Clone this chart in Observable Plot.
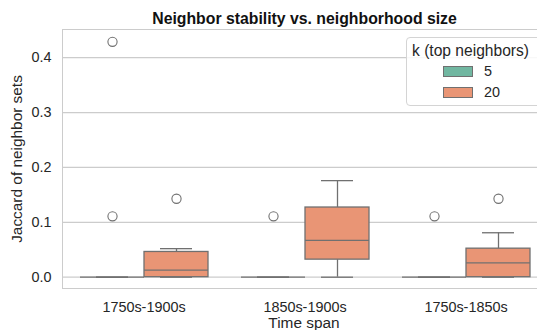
<!DOCTYPE html>
<html>
<head>
<meta charset="utf-8">
<script src="https://cdn.jsdelivr.net/npm/d3@7"></script>
<script src="https://cdn.jsdelivr.net/npm/@observablehq/plot@0.6"></script>
<style>
  html, body { margin: 0; padding: 0; background: #fff; }
  #wrap { position: relative; width: 537px; height: 330px; overflow: hidden;
          font-family: "Liberation Sans", Arial, sans-serif; color: #262626; }
  #chart { position: absolute; left: 0; top: 0; width: 546px; height: 330px; }
  #chart svg { max-width: none !important; width: 546px !important; height: 330px !important; }
  .abs { position: absolute; white-space: nowrap; }
</style>
</head>
<body>
<div id="wrap">
  <div id="chart"></div>
  <div class="abs" id="frame" style="left:62.2px;top:29.2px;width:482px;height:257.6px;border:1.6px solid #cccccc;pointer-events:none;"></div>
  <div class="abs" style="left:0;top:9px;width:609px;text-align:center;font-weight:bold;font-size:15.8px;line-height:20px;color:#111;">Neighbor stability vs. neighborhood size</div>
  <div class="abs" style="left:17px;top:159px;transform:translate(-50%,-50%) rotate(-90deg);font-size:15.4px;">Jaccard of neighbor sets</div>
  <div class="abs" style="left:304px;top:323px;transform:translate(-50%,-50%);font-size:15.4px;">Time span</div>
  <div class="abs" id="legend" style="left:406px;top:37px;width:150px;height:67px;border:1.2px solid #d4d4d4;border-radius:4px;background:rgba(255,255,255,0.85);"></div>
</div>
<script>
// ---- data ----
const spans = ["1750s-1900s", "1850s-1900s", "1750s-1850s"];
const ks = ["5", "20"];
const legendTitle = "k (top neighbors)";

// box statistics per time span, k = 5
const k5Q1     = [0, 0, 0];
const k5Median = [0, 0, 0];
const k5Q3     = [0, 0, 0];
const k5Lo     = [0, 0, 0];
const k5Hi     = [0, 0, 0];
// box statistics per time span, k = 20
const k20Q1     = [0, 0.032, 0];
const k20Median = [0.013, 0.067, 0.026];
const k20Q3     = [0.046, 0.127, 0.052];
const k20Lo     = [0, 0, 0];
const k20Hi     = [0.052, 0.176, 0.081];

// outliers
const outlierSpan  = ["1750s-1900s", "1750s-1900s", "1750s-1900s", "1850s-1900s", "1750s-1850s", "1750s-1850s"];
const outlierK     = ["5", "5", "20", "5", "5", "20"];
const outlierValue = [0.111, 0.429, 0.143, 0.111, 0.111, 0.143];

const yTicks = [0, 0.1, 0.2, 0.3, 0.4];
const colors = {"5": "#71b7a1", "20": "#e99575"};
const lineColor = "#707070";

// ---- build tables ----
const boxes = [];
spans.forEach((s, i) => {
  boxes.push({span: s, k: "5", q1: k5Q1[i], median: k5Median[i], q3: k5Q3[i], lo: k5Lo[i], hi: k5Hi[i]});
  boxes.push({span: s, k: "20", q1: k20Q1[i], median: k20Median[i], q3: k20Q3[i], lo: k20Lo[i], hi: k20Hi[i]});
});
const outliers = outlierSpan.map((s, i) => ({span: s, k: outlierK[i], value: outlierValue[i]}));

const yMax = 0.429, yMin = 0;
const pad = (yMax - yMin) * 0.048;

const chart = Plot.plot({
  width: 546,
  height: 330,
  marginLeft: 63,
  marginRight: 0,
  marginTop: 30,
  marginBottom: 42,
  style: {fontSize: "14.4px", fontFamily: "'Liberation Sans', Arial, sans-serif", color: "#262626", background: "transparent", maxWidth: "none"},
  fx: {domain: spans, padding: 0, label: null, axis: null},
  x: {domain: ks, paddingInner: 0, paddingOuter: 0.25, axis: null},
  y: {domain: [yMin - pad, yMax + pad], label: null, axis: null},
  marks: [
    Plot.gridY(yTicks, {stroke: "#cccccc", strokeOpacity: 1, strokeWidth: 1.2}),
    Plot.axisY(yTicks, {tickSize: 0, tickPadding: 12, tickFormat: d3.format(".1f"), label: null}),
    Plot.axisFx({anchor: "bottom", tickSize: 0, tickPadding: 13, label: null}),
    Plot.ruleX(boxes, {fx: "span", x: "k", y1: "q3", y2: "hi", stroke: lineColor, strokeWidth: 1.3}),
    Plot.ruleX(boxes, {fx: "span", x: "k", y1: "lo", y2: "q1", stroke: lineColor, strokeWidth: 1.3}),
    Plot.tickY(boxes, {fx: "span", x: "k", y: "hi", stroke: lineColor, strokeWidth: 1.3, insetLeft: 16, insetRight: 16}),
    Plot.tickY(boxes, {fx: "span", x: "k", y: "lo", stroke: lineColor, strokeWidth: 1.3, insetLeft: 16, insetRight: 16}),
    Plot.barY(boxes, {fx: "span", x: "k", y1: "q1", y2: "q3", fill: d => colors[d.k], stroke: lineColor, strokeWidth: 1.3, insetLeft: 0, insetRight: 0}),
    Plot.tickY(boxes, {fx: "span", x: "k", y: "median", stroke: lineColor, strokeWidth: 1.3}),
    Plot.dot(outliers, {fx: "span", x: "k", y: "value", r: 4.6, stroke: lineColor, strokeWidth: 1.1, fill: "none"})
  ]
});
document.getElementById("chart").appendChild(chart);

// ---- legend ----
const leg = document.getElementById("legend");
const t = document.createElement("div");
t.className = "abs";
t.style.cssText = "left:5px;top:3px;font-size:15.6px;line-height:20px;";
t.textContent = legendTitle;
leg.appendChild(t);
ks.forEach((k, i) => {
  const sw = document.createElement("div");
  sw.className = "abs";
  sw.style.cssText = `left:36px;top:${28 + i * 21}px;width:28px;height:9px;background:${colors[k]};border:1.2px solid ${lineColor};`;
  leg.appendChild(sw);
  const lb = document.createElement("div");
  lb.className = "abs";
  lb.style.cssText = `left:77px;top:${24 + i * 21}px;font-size:14.4px;line-height:18px;`;
  lb.textContent = k;
  leg.appendChild(lb);
});
</script>
</body>
</html>
